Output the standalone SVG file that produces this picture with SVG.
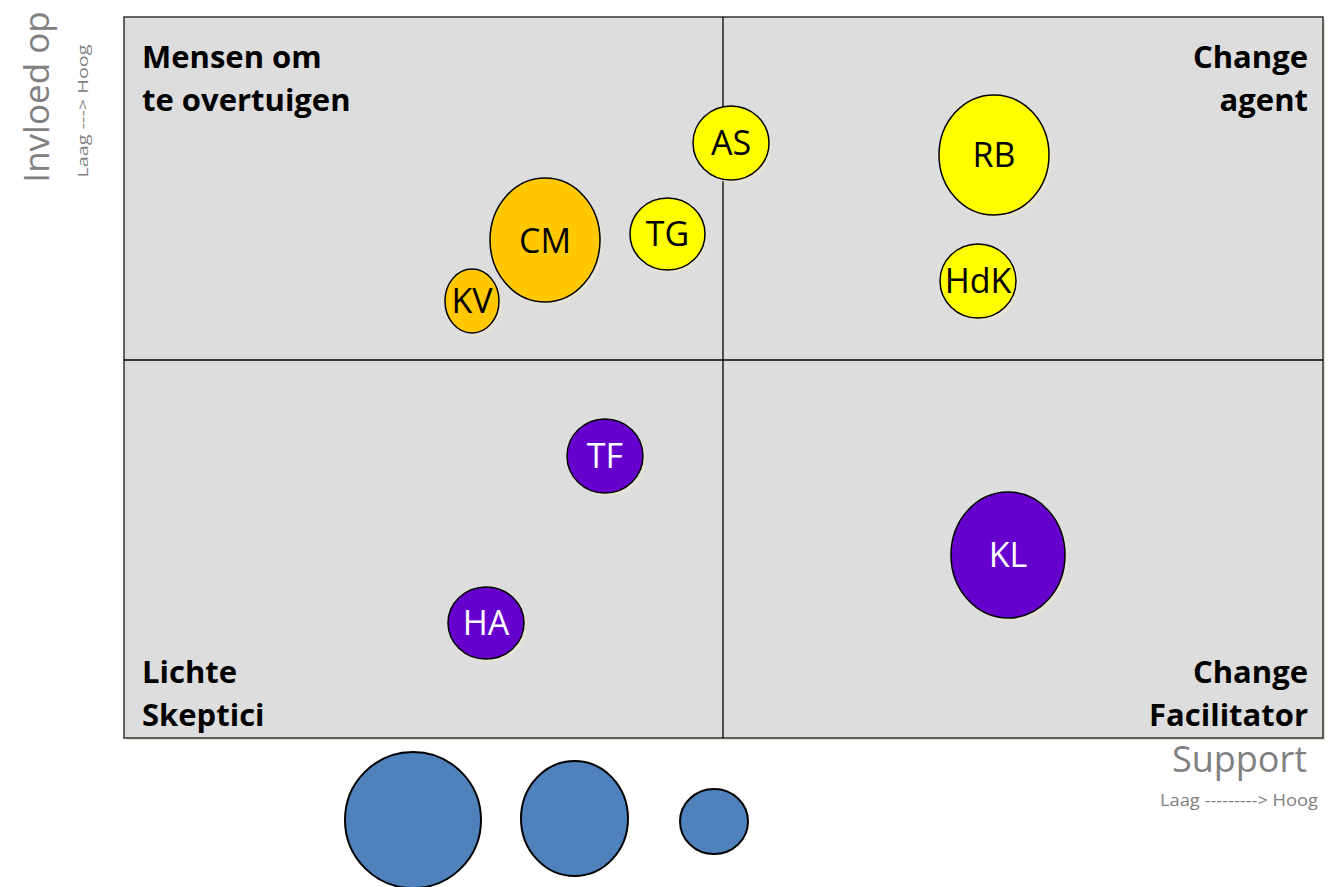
<svg xmlns="http://www.w3.org/2000/svg" width="1331" height="887" viewBox="0 0 1331 887">
<defs>
<style>
.q{font-family:"Open Sans","Liberation Sans",sans-serif;font-weight:bold;font-size:31px;fill:#000}
.lbl{font-family:"Open Sans","Liberation Sans",sans-serif;font-size:34px;text-anchor:middle}
.ax{font-family:"Open Sans","Liberation Sans",sans-serif;fill:#808080}
.bub{stroke:#000;stroke-width:1.5}
.sh{fill:#E6E2D4}
.or{fill:#FFC800}
.ye{fill:#FFFF00}
.pu{fill:#6600CC}
.bl{fill:#4F81BD;stroke:#000;stroke-width:2}
</style>
</defs>
<rect width="1331" height="887" fill="#fff"/>
<g id="plot">
<rect x="126" y="19" width="1199" height="721" fill="#E6E2D4"/>
<rect x="124" y="17" width="1199" height="721" fill="#DDDDDD" stroke="#333" stroke-width="1.5"/>
</g>
<g id="connectors">
<line x1="723" y1="17" x2="723" y2="738" stroke="#000" stroke-width="1.3"/>
<line x1="124" y1="360" x2="1323" y2="360" stroke="#000" stroke-width="1.3"/>
</g>
<g id="quadrant-labels">
<text class="q" x="142" y="68">Mensen om</text>
<text class="q" x="142" y="111">te overtuigen</text>
<text class="q" x="1308" y="68" text-anchor="end">Change</text>
<text class="q" x="1308" y="111" text-anchor="end">agent</text>
<text class="q" x="142" y="683">Lichte</text>
<text class="q" x="142" y="726">Skeptici</text>
<text class="q" x="1308" y="683" text-anchor="end">Change</text>
<text class="q" x="1308" y="726" text-anchor="end">Facilitator</text>
</g>
<g id="node-AS"><ellipse class="sh" cx="734" cy="146" rx="38" ry="37"/><ellipse class="bub ye" cx="731" cy="143" rx="38" ry="37"/><text class="lbl" x="731" y="155">AS</text></g>
<g id="node-RB"><ellipse class="sh" cx="997" cy="158" rx="55" ry="60"/><ellipse class="bub ye" cx="994" cy="155" rx="55" ry="60"/><text class="lbl" x="994" y="167">RB</text></g>
<g id="node-HdK"><ellipse class="sh" cx="981" cy="284" rx="38" ry="37"/><ellipse class="bub ye" cx="978" cy="281" rx="38" ry="37"/><text class="lbl" x="978" y="293">HdK</text></g>
<g id="node-TG"><ellipse class="sh" cx="670" cy="237" rx="37.5" ry="36"/><ellipse class="bub ye" cx="667.5" cy="234" rx="37.5" ry="36"/><text class="lbl" x="667.5" y="246">TG</text></g>
<g id="node-CM"><ellipse class="sh" cx="548" cy="243" rx="55" ry="62"/><ellipse class="bub or" cx="545" cy="240" rx="55" ry="62"/><text class="lbl" x="545" y="253">CM</text></g>
<g id="node-KV"><ellipse class="sh" cx="475" cy="304" rx="27" ry="32"/><ellipse class="bub or" cx="472" cy="301" rx="27" ry="32"/><text class="lbl" x="472" y="313">KV</text></g>
<g id="node-TF"><ellipse class="sh" cx="608" cy="459" rx="38" ry="37"/><ellipse class="bub pu" cx="605" cy="456" rx="38" ry="37"/><text class="lbl" x="605" y="468" fill="#fff">TF</text></g>
<g id="node-HA"><ellipse class="sh" cx="489" cy="626" rx="38" ry="36"/><ellipse class="bub pu" cx="486" cy="623" rx="38" ry="36"/><text class="lbl" x="486" y="635" fill="#fff">HA</text></g>
<g id="node-KL"><ellipse class="sh" cx="1011" cy="558" rx="57" ry="63"/><ellipse class="bub pu" cx="1008" cy="555" rx="57" ry="63"/><text class="lbl" x="1008" y="567" fill="#fff">KL</text></g>
<g id="legend">
<ellipse class="bl" cx="413" cy="820" rx="68" ry="68"/>
<ellipse class="bl" cx="574.5" cy="818.5" rx="53.5" ry="57.5"/>
<ellipse class="bl" cx="714" cy="821.5" rx="34" ry="32.5"/>
</g>
<g id="axis-labels">
<text class="ax" font-size="35" text-anchor="middle" transform="translate(49,97) rotate(-90)">Invloed op</text>
<text class="ax" font-size="15" text-anchor="middle" textLength="133" lengthAdjust="spacingAndGlyphs" transform="translate(88,111) rotate(-90)">Laag ---&gt; Hoog</text>
<text class="ax" font-size="36" text-anchor="end" x="1307" y="772">Support</text>
<text class="ax" font-size="17" x="1160" y="806" textLength="158" lengthAdjust="spacingAndGlyphs">Laag ---------&gt; Hoog</text>
</g>
</svg>
